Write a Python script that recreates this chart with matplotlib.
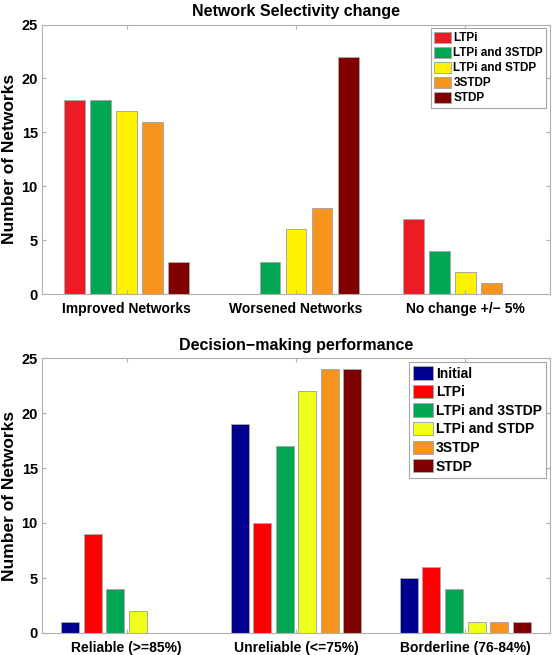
import numpy as np
import matplotlib
matplotlib.use('Agg')
import matplotlib.pyplot as plt

plt.rcParams['font.family'] = ['Liberation Sans', 'DejaVu Sans']
plt.rcParams['font.weight'] = 'bold'

# top panel: network selectivity change
sel_groups = ['Improved Networks', 'Worsened Networks', 'No change +/\u2212 5%']
sel_labels = ['LTPi', 'LTPi and 3STDP', 'LTPi and STDP', '3STDP', 'STDP']
sel_values = [
    [18, 0, 7],
    [18, 3, 4],
    [17, 6, 2],
    [16, 8, 1],
    [3, 22, 0],
]
sel_colors = ['#ec1c24', '#00a651', '#fff200', '#f7941d', '#800000']

# bottom panel: decision-making performance
perf_groups = ['Reliable (>=85%)', 'Unreliable (<=75%)', 'Borderline (76-84%)']
perf_labels = ['Initial', 'LTPi', 'LTPi and 3STDP', 'LTPi and STDP', '3STDP', 'STDP']
perf_values = [
    [1, 19, 5],
    [9, 10, 6],
    [4, 17, 4],
    [2, 22, 1],
    [0, 24, 1],
    [0, 24, 1],
]
perf_colors = ['#000090', '#ff0000', '#00a651', '#f0ff1a', '#f7941d', '#800000']

W, H = 554, 655
fig = plt.figure(figsize=(W / 100, H / 100), dpi=100)


def px_axes(left, top, right, bottom):
    return fig.add_axes([left / W, 1 - bottom / H, (right - left) / W, (bottom - top) / H])


def grouped(ax, values, labels, colors, groups, title, legend_size, spacing):
    n = len(values)
    group_w = min(0.8, n / (n + 1.5))
    pitch = group_w / n
    x = np.arange(1, len(groups) + 1)
    for i, (vals, lab, col) in enumerate(zip(values, labels, colors)):
        offs = (i - (n - 1) / 2) * pitch
        ax.bar(x + offs, vals, width=pitch * 0.8, color=col, label=lab,
               edgecolor='#a8a8a8', linewidth=0.7)
    ax.set_xlim(0.5, 3.5)
    ax.set_ylim(0, 25)
    ax.set_xticks(x)
    ax.set_xticklabels(groups, fontsize=10, fontweight='bold')
    ax.set_yticks(range(0, 26, 5))
    ax.tick_params(axis='y', labelsize=10.5, pad=3)
    ax.tick_params(axis='x', pad=6)
    ax.tick_params(direction='in', top=True, right=True, color='#b0b0b0', length=3)
    for s in ax.spines.values():
        s.set_color('#b0b0b0')
        s.set_linewidth(0.8)
    for t in ax.get_yticklabels():
        t.set_fontweight('bold')
    ax.set_ylabel('Number of Networks', fontsize=12.5, fontweight='bold', labelpad=3)
    ax.set_title(title, fontsize=11.5, fontweight='bold', pad=6)
    leg = ax.legend(loc='upper right', handlelength=1.4,
                    handleheight=1.1, handletextpad=0.2, labelspacing=spacing,
                    borderpad=0.3, borderaxespad=0.3, fancybox=False,
                    prop={'weight': 'bold', 'size': legend_size})
    leg.get_frame().set_edgecolor('#909090')
    leg.get_frame().set_linewidth(0.8)


ax1 = px_axes(42, 24.5, 550, 294)
grouped(ax1, sel_values, sel_labels, sel_colors, sel_groups,
        'Network Selectivity change', 8.5, 0.2)

ax2 = px_axes(42, 358, 550, 633)
grouped(ax2, perf_values, perf_labels, perf_colors, perf_groups,
        'Decision\u2212making performance', 10, 0.3)

fig.savefig('out.png', dpi=100)
